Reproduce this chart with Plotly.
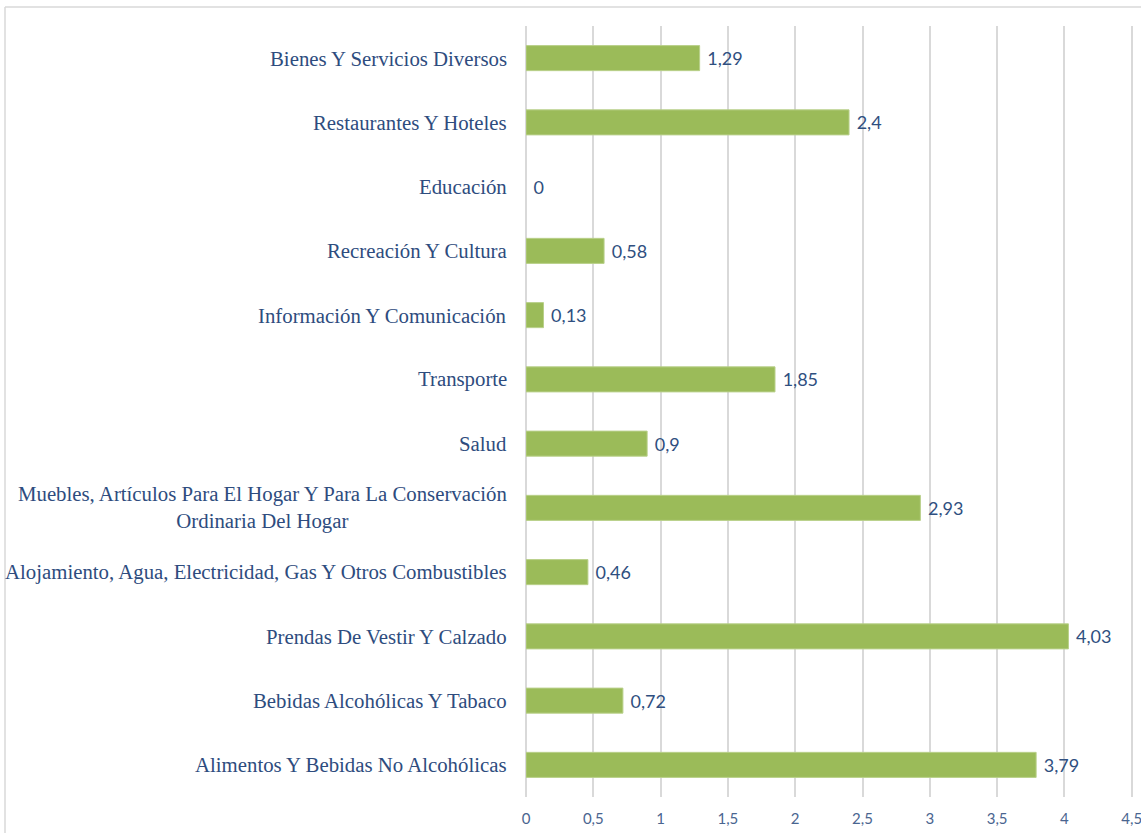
import plotly.graph_objects as go

categories = [
    "Alimentos Y Bebidas No Alcohólicas",
    "Bebidas Alcohólicas Y Tabaco",
    "Prendas De Vestir Y Calzado",
    "Alojamiento, Agua, Electricidad, Gas Y Otros Combustibles",
    "Muebles, Artículos Para El Hogar Y Para La Conservación<br>Ordinaria Del Hogar",
    "Salud",
    "Transporte",
    "Información Y Comunicación",
    "Recreación Y Cultura",
    "Educación",
    "Restaurantes Y Hoteles",
    "Bienes Y Servicios Diversos",
]
values = [3.79, 0.72, 4.03, 0.46, 2.93, 0.9, 1.85, 0.13, 0.58, 0, 2.4, 1.29]
tick_vals = [0, 0.5, 1, 1.5, 2, 2.5, 3, 3.5, 4, 4.5]
tick_text = ["0", "0,5", "1", "1,5", "2", "2,5", "3", "3,5", "4", "4,5"]

value_text = [" " + ("%g" % v).replace(".", ",") for v in values]
line_widths = [1 if v > 0 else 0 for v in values]

W, H = 1141, 833
L, R, T, B = 526, 3, 26, 36
pw, ph = W - L - R, H - T - B
x_max = pw / 134.6

fig = go.Figure()
fig.add_trace(go.Bar(
    x=values, y=categories, orientation="h",
    marker=dict(color="#9BBB59", line=dict(color="#B9D08A", width=line_widths)),
    text=value_text, textposition="outside", cliponaxis=False,
    textfont=dict(family="Lato", size=18, color="#2F4F80"),
))

for c in categories:
    fig.add_annotation(
        x=0, xref="paper", y=c, yref="y", text=c, showarrow=False,
        xanchor="right", xshift=-17, align="center",
        font=dict(family="Liberation Serif", size=20.8, color="#2E4C7E"),
    )

def px_x(p):
    return (p - L) / pw

def px_y(p):
    return (H - B - p) / ph

fig.add_shape(type="line", xref="paper", yref="paper",
              x0=px_x(5), x1=px_x(1145), y0=px_y(7), y1=px_y(7),
              line=dict(color="#D9D9D9", width=1.5))
fig.add_shape(type="line", xref="paper", yref="paper",
              x0=px_x(5), x1=px_x(5), y0=px_y(7), y1=px_y(840),
              line=dict(color="#D9D9D9", width=1.5))

fig.update_layout(
    width=W, height=H,
    margin=dict(l=L, r=R, t=T, b=B),
    paper_bgcolor="white", plot_bgcolor="white",
    bargap=0.61, showlegend=False,
    separators=",.",
    xaxis=dict(range=[0, x_max], tickvals=tick_vals, ticktext=tick_text,
               automargin=False, ticklabeloverflow="allow",
               showgrid=True, gridcolor="#D9D9D9", gridwidth=1.5,
               zeroline=True, zerolinecolor="#D9D9D9", zerolinewidth=1.5,
               showline=False, ticks="outside", ticklen=8,
               tickcolor="rgba(0,0,0,0)",
               tickfont=dict(family="Lato", size=15, color="#4A6590")),
    yaxis=dict(showticklabels=False, showgrid=False, zeroline=False,
               automargin=False,
               categoryorder="array", categoryarray=categories,
               range=[-0.5, len(categories) - 0.5]),
)

fig.write_html("out.html", config={"displayModeBar": False},
               post_script="document.body.style.margin='0';document.body.style.overflow='hidden';")
